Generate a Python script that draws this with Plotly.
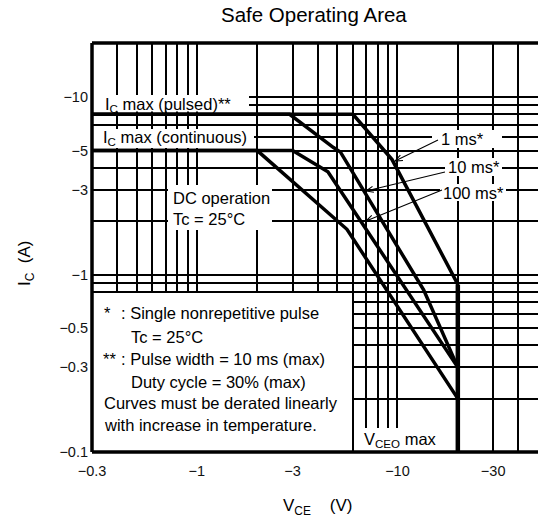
import math
import plotly.graph_objects as go

# ---------------- data (magnitudes; axis labels carry the minus sign) ----------------
v_dc = [0.3, 2.0, 5.6, 20.0]
i_dc = [5.0, 5.0, 1.8, 0.2]

v_100ms = [0.3, 3.0, 4.5, 20.0]
i_100ms = [5.0, 5.0, 3.8, 0.3]

v_10ms = [0.3, 2.9, 4.8, 5.2, 13.5, 20.0]
i_10ms = [8.0, 8.0, 5.2, 4.9, 0.82, 0.3]

v_1ms = [0.3, 6.0, 9.4, 18.7, 20.0]
i_1ms = [8.0, 8.0, 4.45, 1.03, 0.88]

v_vceo = [20.0, 20.0]
i_vceo = [0.88, 0.1]

x_ticks = [0.3, 1, 3, 10, 30]
x_ticktext = ["\u22120.3", "\u22121", "\u22123", "\u221210", "\u221230"]
x_grid = [0.3, 0.4, 0.5, 0.6, 0.7, 0.8, 0.9, 1, 2, 3, 4, 5, 6, 7, 8, 9, 10, 20, 30, 40, 50]

y_ticks = [0.1, 0.3, 0.5, 1, 3, 5, 10]
y_ticktext = ["\u22120.1", "\u22120.3", "\u22120.5", "\u22121", "\u22123", "\u22125", "\u221210"]
y_grid = [0.1, 0.2, 0.3, 0.4, 0.5, 0.6, 0.7, 0.8, 0.9, 1, 2, 3, 4, 5, 6, 7, 8, 9, 10, 20]

# ---------------- layout geometry ----------------
W, H = 538, 522
L, R, T, B = 92, 538, 43, 452
FONT = "Liberation Sans, Arial, sans-serif"


def px(x):
    return (x - L) / (R - L)


def py(y):
    return (B - y) / (B - T)


fig = go.Figure()
for vs, cs in [(v_dc, i_dc), (v_100ms, i_100ms), (v_10ms, i_10ms), (v_1ms, i_1ms)]:
    fig.add_trace(go.Scatter(x=vs, y=cs, mode="lines",
                             line=dict(color="black", width=3.5),
                             showlegend=False, hoverinfo="skip"))
fig.add_trace(go.Scatter(x=v_vceo, y=i_vceo, mode="lines",
                         line=dict(color="black", width=4.5),
                         showlegend=False, hoverinfo="skip"))

shapes = []
# white boxes behind text (hide grid)
for (x0, y0, x1, y1) in [
    (93, 95, 249, 111.5),     # Ic max pulsed
    (93, 129, 254, 148),      # Ic max continuous
    (432, 130, 502, 148),     # 1 ms
    (445, 158, 502, 176),     # 10 ms
    (440, 184, 506, 201),     # 100 ms
    (168, 185, 272, 230),     # DC operation
    (93, 293, 352, 451),      # notes box
    (356, 428, 454, 451),     # VCEO max
]:
    shapes.append(dict(type="rect", xref="paper", yref="paper",
                       x0=px(x0), x1=px(x1), y0=py(y1), y1=py(y0),
                       fillcolor="white", line=dict(width=0), layer="above"))
# frame: left, top, bottom
for (x0, y0, x1, y1) in [(L, T, L, B), (L, T, R + 2, T), (L, B, R + 2, B)]:
    shapes.append(dict(type="line", xref="paper", yref="paper",
                       x0=px(x0), x1=px(x1), y0=py(y0), y1=py(y1),
                       line=dict(color="black", width=3.5), layer="above"))

# arrows from labels to curves (thin line + open V head)
for (hx, hy, tx, ty) in [(395, 161, 438, 140), (366, 191, 445, 172), (366, 221, 442, 190)]:
    d = math.hypot(tx - hx, ty - hy)
    ux, uy = (tx - hx) / d, (ty - hy) / d
    wl, ang = 8.0, math.radians(22)
    wings = []
    for s in (1, -1):
        ca, sa = math.cos(s * ang), math.sin(s * ang)
        wx = hx + wl * (ux * ca - uy * sa)
        wy = hy + wl * (ux * sa + uy * ca)
        wings.append((wx, wy))
    path = (f"M {px(tx)},{py(ty)} L {px(hx)},{py(hy)} "
            f"M {px(wings[0][0])},{py(wings[0][1])} L {px(hx)},{py(hy)} "
            f"L {px(wings[1][0])},{py(wings[1][1])}")
    shapes.append(dict(type="path", xref="paper", yref="paper", path=path,
                       line=dict(color="black", width=1.1), layer="above"))

ann = []


def text(x, y, s, size=16.5, anchor="left"):
    ann.append(dict(xref="paper", yref="paper", x=px(x), y=py(y), text=s,
                    showarrow=False, xanchor=anchor, yanchor="middle",
                    font=dict(family=FONT, size=size, color="black")))


text(103, 105, "I<sub>C</sub> max (pulsed)**")
text(101, 138, "I<sub>C</sub> max (continuous)")
text(439, 139, "1 ms*")
text(446, 167, "10 ms*")
text(441, 193, "100 ms*")
text(171, 198, "DC operation")
text(171, 219, "Tc = 25°C")
text(102, 313, "*")
text(119, 313, ": Single nonrepetitive pulse")
text(129, 337, "Tc = 25°C")
text(101, 359, "**")
text(119, 359, ": Pulse width = 10 ms (max)")
text(129, 382, "Duty cycle = 30% (max)")
text(102, 403, "Curves must be derated linearly")
text(102, 425, "with increase in temperature.")
text(362, 440, "V<sub>CEO</sub> max")

# titles
ann.append(dict(xref="paper", yref="paper", x=px(314), y=py(15), text="Safe Operating Area",
                showarrow=False, xanchor="center", yanchor="middle",
                font=dict(family=FONT, size=20.5, color="black")))
ann.append(dict(xref="paper", yref="paper", x=px(317), y=py(507),
                text="V<sub>CE</sub>\u00a0\u00a0\u00a0\u00a0(V)",
                showarrow=False, xanchor="center", yanchor="middle",
                font=dict(family=FONT, size=17, color="black")))
ann.append(dict(xref="paper", yref="paper", x=px(26), y=py(264),
                text="I<sub>C</sub>\u00a0\u00a0(A)", textangle=-90,
                showarrow=False, xanchor="center", yanchor="middle",
                font=dict(family=FONT, size=17, color="black")))

grid_style = dict(showgrid=True, gridcolor="black", gridwidth=1.6, ticks="")
fig.update_layout(
    width=W, height=H,
    margin=dict(l=L, r=W - R, t=T, b=H - B, pad=0),
    paper_bgcolor="white", plot_bgcolor="white",
    shapes=shapes, annotations=ann,
    font=dict(family=FONT, color="black"),
    xaxis=dict(type="log", range=[math.log10(0.3), math.log10(50.2)],
               tickmode="array", tickvals=x_ticks, ticktext=x_ticktext,
               showgrid=True, gridcolor="black", gridwidth=1.6,
               minor=dict(tickmode="array", tickvals=x_grid, **grid_style),
               zeroline=False, showline=False, ticks="",
               tickfont=dict(family=FONT, size=14.5, color="#111"),
               ticklabelstandoff=8),
    yaxis=dict(type="log", range=[-1, math.log10(20.2)],
               tickmode="array", tickvals=y_ticks, ticktext=y_ticktext,
               showgrid=True, gridcolor="black", gridwidth=1.6,
               minor=dict(tickmode="array", tickvals=y_grid, **grid_style),
               zeroline=False, showline=False, ticks="",
               tickfont=dict(family=FONT, size=14.5, color="#111"),
               ticklabelstandoff=3),
)

fig.write_html("out.html")
